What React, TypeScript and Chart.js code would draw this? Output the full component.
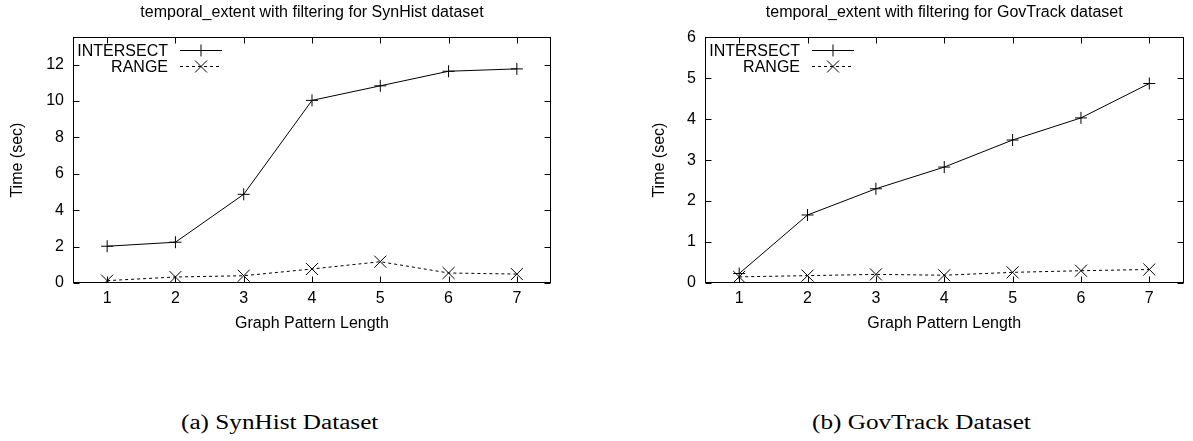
import React, { useEffect, useRef } from 'react';
import { Chart, registerables } from 'chart.js';

Chart.register(...registerables);

// ---------------- data ----------------
const patternLengths = [1, 2, 3, 4, 5, 6, 7];
const synIntersect = [2.02, 2.24, 4.87, 10.03, 10.83, 11.63, 11.76];
const synRange = [0.13, 0.33, 0.4, 0.77, 1.17, 0.55, 0.49];
const govIntersect = [0.23, 1.66, 2.3, 2.83, 3.49, 4.03, 4.87];
const govRange = [0.15, 0.18, 0.21, 0.19, 0.26, 0.3, 0.33];
const synYTicks = [0, 2, 4, 6, 8, 10, 12];
const govYTicks = [0, 1, 2, 3, 4, 5, 6];
const seriesNames = ['INTERSECT', 'RANGE'];
const synTitle = 'temporal_extent with filtering for SynHist dataset';
const govTitle = 'temporal_extent with filtering for GovTrack dataset';
const xAxisTitle = 'Graph Pattern Length';
const yAxisTitle = 'Time (sec)';
const captions = ['(a) SynHist Dataset', '(b) GovTrack Dataset'];

const FAMILY = "'Liberation Sans', Arial, Helvetica, sans-serif";
const FONT = { family: FAMILY, size: 16, weight: 'normal' as const };

function drawMarker(ctx: CanvasRenderingContext2D, style: string, x: number, y: number) {
  ctx.beginPath();
  if (style === 'cross') {
    ctx.moveTo(x - 6, y);
    ctx.lineTo(x + 6, y);
    ctx.moveTo(x, y - 6);
    ctx.lineTo(x, y + 6);
  } else {
    ctx.moveTo(x - 6, y - 6);
    ctx.lineTo(x + 6, y + 6);
    ctx.moveTo(x - 6, y + 6);
    ctx.lineTo(x + 6, y - 6);
  }
  ctx.stroke();
}

const framePlugin = {
  id: 'gnuFrame',
  afterDatasetsDraw(chart: any) {
    const { ctx, chartArea: a, scales } = chart;
    const L = Math.round(a.left) + 0.5;
    const R = Math.round(a.right) - 0.5;
    const T = Math.round(a.top) + 0.5;
    const B = Math.round(a.bottom) - 0.5;
    ctx.save();
    ctx.strokeStyle = '#000';
    ctx.lineWidth = 1;
    ctx.setLineDash([]);
    ctx.strokeRect(L, T, R - L, B - T);
    ctx.beginPath();
    scales.y.ticks.forEach((t: any) => {
      const p = Math.round(scales.y.getPixelForValue(t.value)) + 0.5;
      ctx.moveTo(L, p);
      ctx.lineTo(L + 6, p);
      ctx.moveTo(R, p);
      ctx.lineTo(R - 6, p);
    });
    scales.x.ticks.forEach((t: any) => {
      const p = Math.round(scales.x.getPixelForValue(t.value)) + 0.5;
      ctx.moveTo(p, B);
      ctx.lineTo(p, B - 6);
      ctx.moveTo(p, T);
      ctx.lineTo(p, T + 6);
    });
    ctx.stroke();
    ctx.restore();
  },
};

const legendPlugin = {
  id: 'gnuLegend',
  afterDraw(chart: any) {
    const { ctx, chartArea: a } = chart;
    ctx.save();
    ctx.font = `16px ${FAMILY}`;
    ctx.fillStyle = '#000';
    ctx.textAlign = 'right';
    ctx.textBaseline = 'middle';
    chart.data.datasets.forEach((ds: any, i: number) => {
      const y = Math.round(a.top + 13 + i * 16) + 0.5;
      ctx.fillText(ds.label, a.left + 95, y + 1);
      ctx.strokeStyle = '#000';
      ctx.lineWidth = 1;
      ctx.setLineDash(ds.borderDash || []);
      ctx.beginPath();
      ctx.moveTo(a.left + 107, y);
      ctx.lineTo(a.left + 149, y);
      ctx.stroke();
      ctx.setLineDash([]);
      drawMarker(ctx, ds.pointStyle, a.left + 128, y);
    });
    ctx.restore();
  },
};

interface PanelProps {
  left: number;
  width: number;
  title: string;
  yMax: number;
  yTicks: number[];
  yWidth: number;
  yTitlePad: number;
  rightPad: number;
  intersect: number[];
  range: number[];
}

function Panel(p: PanelProps) {
  const ref = useRef<HTMLCanvasElement | null>(null);
  useEffect(() => {
    if (!ref.current) return;
    const chart = new Chart(ref.current, {
      type: 'line',
      data: {
        datasets: [
          {
            label: seriesNames[0],
            data: patternLengths.map((x, i) => ({ x, y: p.intersect[i] })),
            borderColor: '#000',
            borderWidth: 1,
            pointStyle: 'cross',
            pointRadius: 6,
            pointBorderColor: '#000',
            pointBorderWidth: 1,
            pointBackgroundColor: '#000',
            tension: 0,
            fill: false,
          },
          {
            label: seriesNames[1],
            data: patternLengths.map((x, i) => ({ x, y: p.range[i] })),
            borderColor: '#000',
            borderWidth: 1,
            borderDash: [3, 3],
            pointStyle: 'crossRot',
            pointRadius: 8.5,
            pointBorderColor: '#000',
            pointBorderWidth: 1,
            pointBackgroundColor: '#000',
            tension: 0,
            fill: false,
          },
        ],
      },
      options: {
        animation: false,
        responsive: false,
        devicePixelRatio: 1,
        layout: { padding: { left: 0, right: p.rightPad, top: 0, bottom: 0 } },
        plugins: {
          legend: { display: false },
          tooltip: { enabled: false },
          title: {
            display: true,
            text: p.title,
            fullSize: false,
            color: '#000',
            font: FONT,
            padding: { top: 3, bottom: 15 },
          },
        },
        scales: {
          x: {
            type: 'linear',
            min: 0.5,
            max: 7.5,
            afterBuildTicks: (s: any) => {
              s.ticks = patternLengths.map((v) => ({ value: v }));
            },
            afterFit: (s: any) => {
              s.height = 57;
            },
            grid: { display: false, drawTicks: false },
            border: { display: false },
            ticks: { padding: 6, color: '#000', font: FONT, callback: (v: any) => String(v) },
            title: {
              display: true,
              text: xAxisTitle,
              color: '#000',
              font: FONT,
              padding: { top: 0, bottom: 7 },
            },
          },
          y: {
            type: 'linear',
            min: 0,
            max: p.yMax,
            afterBuildTicks: (s: any) => {
              s.ticks = p.yTicks.map((v) => ({ value: v }));
            },
            afterFit: (s: any) => {
              s.width = p.yWidth;
            },
            grid: { display: false, drawTicks: false },
            border: { display: false },
            ticks: { padding: 9, color: '#000', font: FONT, callback: (v: any) => String(v) },
            title: {
              display: true,
              text: yAxisTitle,
              color: '#000',
              font: FONT,
              padding: { top: p.yTitlePad, bottom: 0 },
            },
          },
        },
      },
      plugins: [framePlugin, legendPlugin],
    } as any);
    return () => chart.destroy();
  }, []);
  return (
    <canvas
      ref={ref}
      width={p.width}
      height={340}
      style={{ position: 'absolute', left: p.left, top: 0, width: p.width, height: 340 }}
    />
  );
}

export default function App() {
  const capStyle: React.CSSProperties = {
    position: 'absolute',
    top: 412,
    fontFamily: "'Liberation Serif', 'Times New Roman', serif",
    fontSize: 20,
    lineHeight: '20px',
    whiteSpace: 'nowrap',
    transform: 'scaleX(1.26)',
    transformOrigin: 'left top',
    color: '#000',
  };
  return (
    <div
      style={{
        position: 'fixed',
        left: 0,
        top: 0,
        width: 1193,
        height: 441,
        background: '#fff',
        overflow: 'hidden',
      }}
    >
      <Panel
        left={0}
        width={600}
        title={synTitle}
        yMax={13.5}
        yTicks={synYTicks}
        yWidth={73}
        yTitlePad={8}
        rightPad={49}
        intersect={synIntersect}
        range={synRange}
      />
      <Panel
        left={600}
        width={593}
        title={govTitle}
        yMax={6}
        yTicks={govYTicks}
        yWidth={105}
        yTitlePad={50}
        rightPad={0}
        intersect={govIntersect}
        range={govRange}
      />
      <div style={{ ...capStyle, left: 181 }}>{captions[0]}</div>
      <div style={{ ...capStyle, left: 812 }}>{captions[1]}</div>
    </div>
  );
}
